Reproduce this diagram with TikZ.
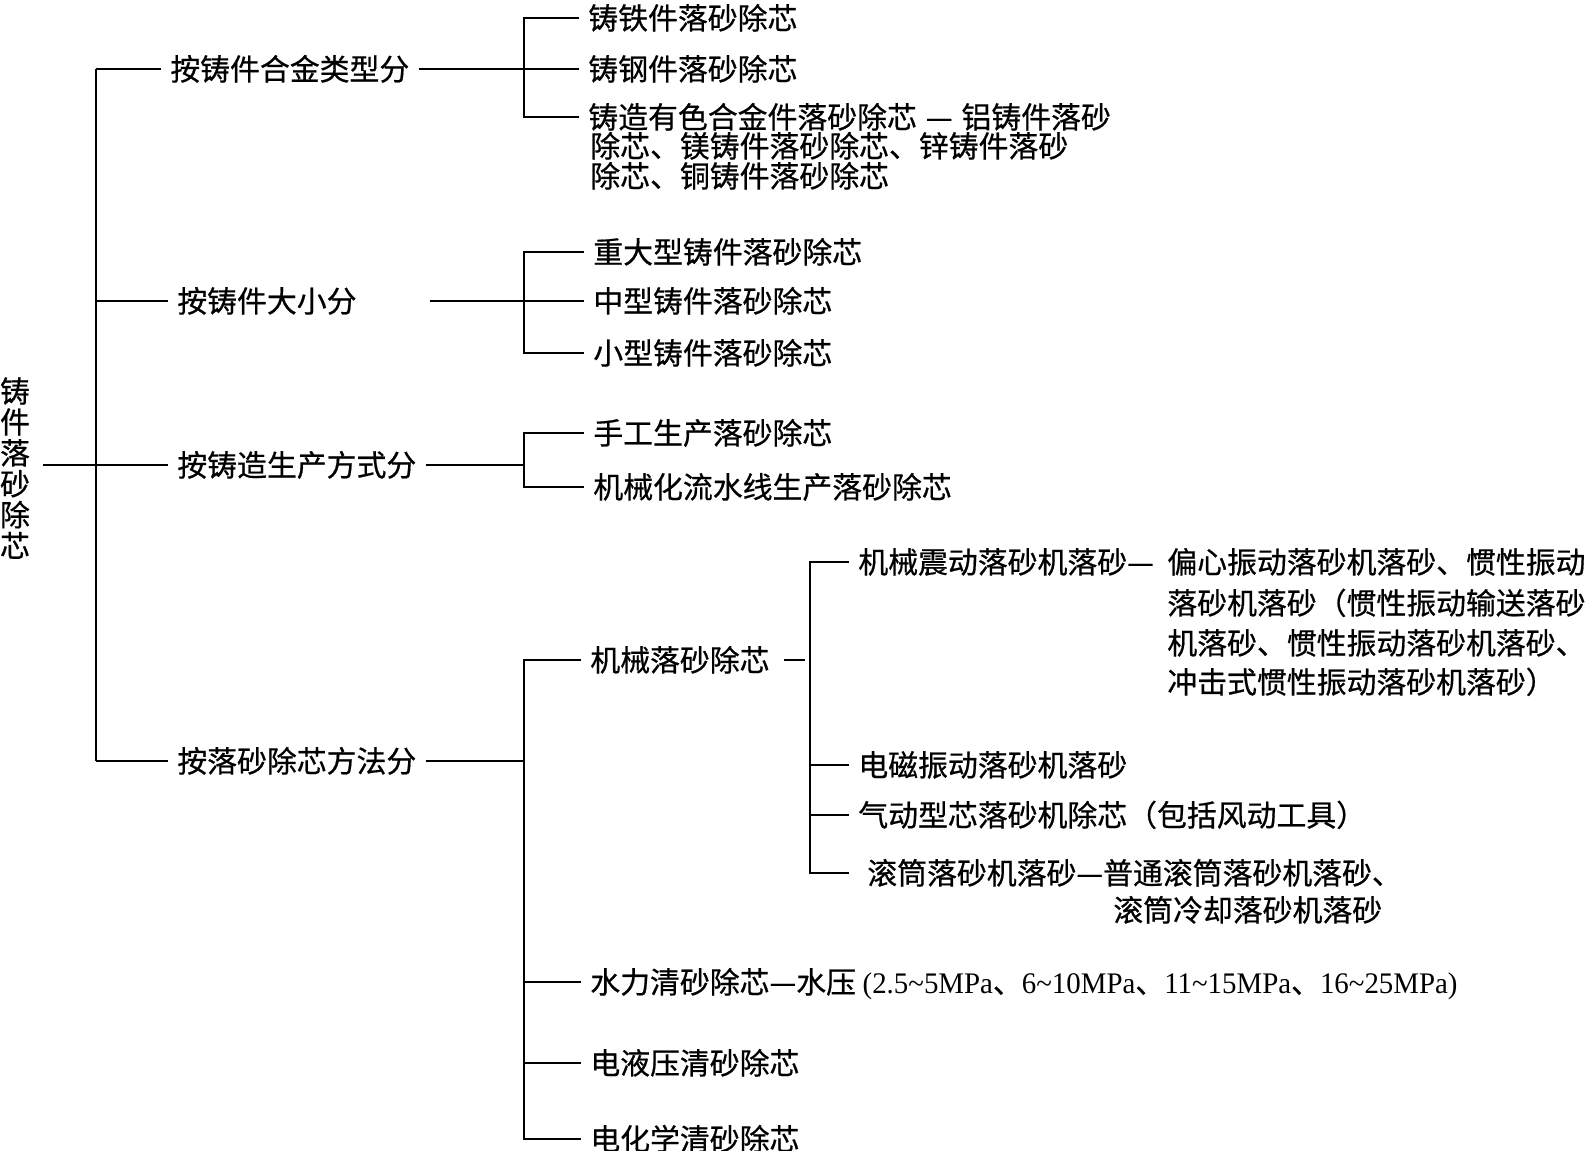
\documentclass[tikz,border=0pt]{standalone}
\usepackage{fontspec}
\usepackage{graphicx}
\newfontfamily\cjk[FakeBold=0.6]{Noto Sans CJK SC}
\newfontfamily\lat{Liberation Serif}
\newcommand\dun{{\cjk 、}}
\newcommand\tld{\textasciitilde}
\begin{document}
\begin{tikzpicture}[x=0.02cm,y=-0.02cm,
  lbl/.style={font=\cjk\fontsize{17pt}{20pt}\selectfont, anchor=west, inner xsep=0.18cm, inner ysep=0pt, text height=14pt, text depth=1.2pt},
  conn/.style={line width=1.5pt},
]
\useasboundingbox (0,0) rectangle (1586,1151);

% root
\node[font=\cjk\fontsize{17pt}{17.6pt}\selectfont, align=center, inner xsep=0.26cm, inner ysep=0pt] (root) at (15,468) {铸\\件\\落\\砂\\除\\芯};

% spine coordinates
\coordinate (sA) at (96,69);
\coordinate (sB) at (96,301);
\coordinate (sC) at (96,465);
\coordinate (sD) at (96,761);

% level 1
\node[lbl] (A) at (161,69) {按铸件合金类型分};
\node[lbl] (B) at (168,301) {按铸件大小分};
\node[lbl] (C) at (168,465) {按铸造生产方式分};
\node[lbl] (D) at (168,761) {按落砂除芯方法分};

\draw[conn] (sA) -- (sD);
\draw[conn] (root.east |- sC) -- (sC);
\draw[conn] (sA) -- (A.west);
\draw[conn] (sB) -- (B.west);
\draw[conn] (sC) -- (C.west);
\draw[conn] (sD) -- (D.west);

% bracket x positions
\coordinate (bx) at (524,0);
\coordinate (Bend) at (430,301);

% group 1
\node[lbl] (a1) at (579,18) {铸铁件落砂除芯};
\node[lbl] (a2) at (579,69) {铸钢件落砂除芯};
\node[lbl] (a3) at (579,117) {铸造有色合金件落砂除芯\hspace{0.3em}—\hspace{0.3em}铝铸件落砂};
\node[lbl] (a3b) at (581,146) {除芯、镁铸件落砂除芯、锌铸件落砂};
\node[lbl] (a3c) at (581,176) {除芯、铜铸件落砂除芯};
\draw[conn] (a1.west) -- (a1.west -| bx) -- (a3.west -| bx) -- (a3.west);
\draw[conn] (a2.west -| bx) -- (a2.west);
\draw[conn] (A.east) -- (A.east -| bx);

% group 2
\node[lbl] (g21) at (584,252) {重大型铸件落砂除芯};
\node[lbl] (g22) at (584,301) {中型铸件落砂除芯};
\node[lbl] (g23) at (584,353) {小型铸件落砂除芯};
\draw[conn] (g21.west) -- (g21.west -| bx) -- (g23.west -| bx) -- (g23.west);
\draw[conn] (g22.west -| bx) -- (g22.west);
\draw[conn] (Bend) -- (Bend -| bx);

% group 3
\node[lbl] (g31) at (584,433) {手工生产落砂除芯};
\node[lbl] (g32) at (584,487) {机械化流水线生产落砂除芯};
\draw[conn] (g31.west) -- (g31.west -| bx) -- (g32.west -| bx) -- (g32.west);
\draw[conn] (C.east) -- (C.east -| bx);

% group 4
\node[lbl] (M) at (581,660) {机械落砂除芯};
\node[lbl] (W) at (581,982) {水力清砂除芯—水压 \resizebox{11.9cm}{\height}{\lat (2.5\tld 5MPa\dun 6\tld 10MPa\dun 11\tld 15MPa\dun 16\tld 25MPa)}};
\node[lbl] (E) at (581,1063) {电液压清砂除芯};
\node[lbl] (F) at (581,1139) {电化学清砂除芯};
\draw[conn] (M.west) -- (M.west -| bx) -- (F.west -| bx) -- (F.west);
\draw[conn] (W.west -| bx) -- (W.west);
\draw[conn] (E.west -| bx) -- (E.west);
\draw[conn] (D.east) -- (D.east -| bx);

% mechanical sub-group
\coordinate (mx) at (810,0);
\coordinate (mdash) at (805,660);
\node[lbl] (v1) at (849,562) {机械震动落砂机落砂—};
\node[lbl] (v1b) at (1158,562) {偏心振动落砂机落砂、惯性振动};
\node[lbl] (v1c) at (1158,603) {落砂机落砂（惯性振动输送落砂};
\node[lbl] (v1d) at (1158,643) {机落砂、惯性振动落砂机落砂、};
\node[lbl] (v1e) at (1158,682) {冲击式惯性振动落砂机落砂）};
\node[lbl] (v2) at (849,765) {电磁振动落砂机落砂};
\node[lbl] (v3) at (849,815) {气动型芯落砂机除芯（包括风动工具）};
\node[lbl, inner xsep=0.36cm] (v4) at (849,873) {滚筒落砂机落砂—普通滚筒落砂机落砂、};
\node[lbl] (v4b) at (1104,910) {滚筒冷却落砂机落砂};
\draw[conn] ([xshift=0.1cm]M.east) -- (mdash);
\draw[conn] (v1.west) -- (v1.west -| mx) -- (v4.west -| mx) -- (v4.west);
\draw[conn] (v2.west -| mx) -- (v2.west);
\draw[conn] (v3.west -| mx) -- (v3.west);
\end{tikzpicture}
\end{document}
